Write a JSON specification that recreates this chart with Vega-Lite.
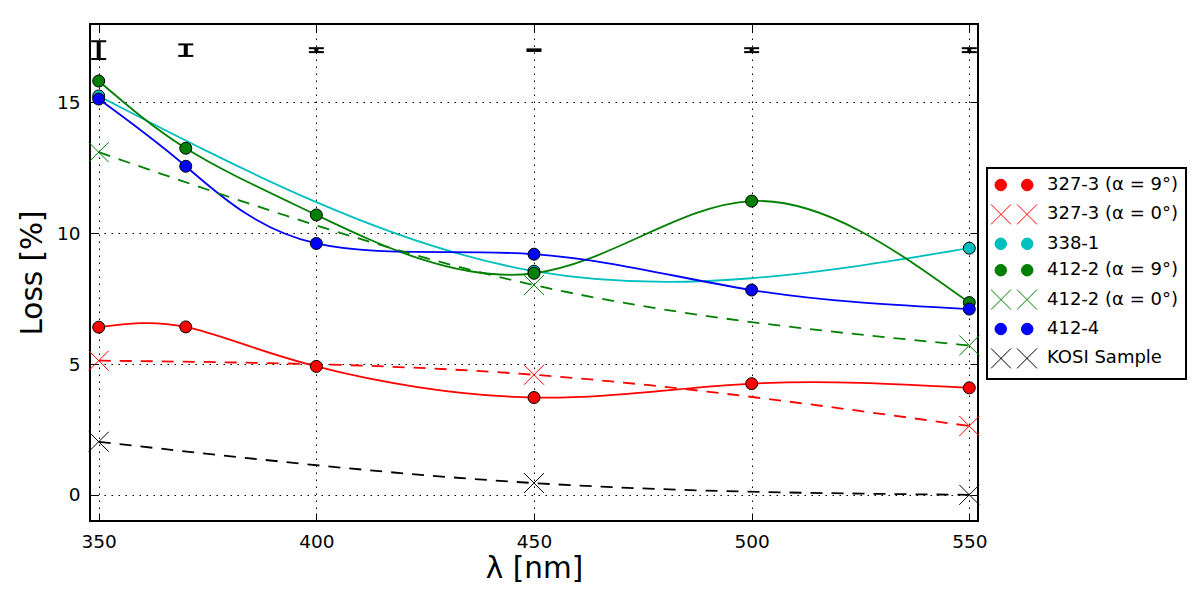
{
  "$schema": "https://vega.github.io/schema/vega-lite/v6.json",
  "width": 888,
  "height": 497,
  "autosize": {"type": "none"},
  "padding": {"left": 90, "top": 24, "right": 222, "bottom": 79},
  "background": "white",
  "datasets": {
    "loss": [
      {"series": "327-3 (α=9°)", "wavelength": 350, "loss": 6.41},
      {"series": "327-3 (α=9°)", "wavelength": 370, "loss": 6.42},
      {"series": "327-3 (α=9°)", "wavelength": 400, "loss": 4.91},
      {"series": "327-3 (α=9°)", "wavelength": 450, "loss": 3.72},
      {"series": "327-3 (α=9°)", "wavelength": 500, "loss": 4.25},
      {"series": "327-3 (α=9°)", "wavelength": 550, "loss": 4.09},
      {"series": "327-3 (α=0°)", "wavelength": 350, "loss": 5.13},
      {"series": "327-3 (α=0°)", "wavelength": 450, "loss": 4.59},
      {"series": "327-3 (α=0°)", "wavelength": 550, "loss": 2.63},
      {"series": "338-1", "wavelength": 350, "loss": 15.25},
      {"series": "338-1", "wavelength": 450, "loss": 8.55},
      {"series": "338-1", "wavelength": 550, "loss": 9.43},
      {"series": "412-2 (α=9°)", "wavelength": 350, "loss": 15.82},
      {"series": "412-2 (α=9°)", "wavelength": 370, "loss": 13.25},
      {"series": "412-2 (α=9°)", "wavelength": 400, "loss": 10.7},
      {"series": "412-2 (α=9°)", "wavelength": 450, "loss": 8.47},
      {"series": "412-2 (α=9°)", "wavelength": 500, "loss": 11.23},
      {"series": "412-2 (α=9°)", "wavelength": 550, "loss": 7.35},
      {"series": "412-2 (α=0°)", "wavelength": 350, "loss": 13.1},
      {"series": "412-2 (α=0°)", "wavelength": 450, "loss": 8.02},
      {"series": "412-2 (α=0°)", "wavelength": 550, "loss": 5.71},
      {"series": "412-4", "wavelength": 350, "loss": 15.13},
      {"series": "412-4", "wavelength": 370, "loss": 12.56},
      {"series": "412-4", "wavelength": 400, "loss": 9.61},
      {"series": "412-4", "wavelength": 450, "loss": 9.2},
      {"series": "412-4", "wavelength": 500, "loss": 7.83},
      {"series": "412-4", "wavelength": 550, "loss": 7.1},
      {"series": "KOSI Sample", "wavelength": 350, "loss": 2.03},
      {"series": "KOSI Sample", "wavelength": 450, "loss": 0.45},
      {"series": "KOSI Sample", "wavelength": 550, "loss": 0.0}
    ],
    "err": [
      {"wavelength": 350, "lo": 16.66, "hi": 17.34},
      {"wavelength": 370, "lo": 16.78, "hi": 17.22},
      {"wavelength": 400, "lo": 16.925, "hi": 17.075},
      {"wavelength": 450, "lo": 16.97, "hi": 17.03},
      {"wavelength": 500, "lo": 16.925, "hi": 17.075},
      {"wavelength": 550, "lo": 16.925, "hi": 17.075}
    ]
  },
  "layer": [
    {
      "data": {"name": "err"},
      "mark": {"type": "rule", "strokeWidth": 4, "color": "black", "opacity": 1},
      "encoding": {
        "x": {
          "field": "wavelength", "type": "quantitative",
          "scale": {"domain": [348, 552], "nice": false, "zero": false},
          "axis": {"orient": "bottom", "values": [350, 400, 450, 500, 550], "title": "λ [nm]", "grid": true, "labelPadding": 19, "titlePadding": 4}
        },
        "y": {
          "field": "lo", "type": "quantitative",
          "scale": {"domain": [-1, 18], "nice": false, "zero": false},
          "axis": {"orient": "left", "values": [0, 5, 10, 15], "title": "Loss [%]", "grid": true, "labelPadding": 18, "titlePadding": 9}
        },
        "y2": {"field": "hi"}
      }
    },
    {
      "data": {"name": "err"},
      "transform": [{"fold": ["lo", "hi"], "as": ["end", "loss"]}],
      "mark": {"type": "tick", "orient": "horizontal", "size": 15, "thickness": 2, "color": "black", "opacity": 1},
      "encoding": {
        "x": {
          "field": "wavelength", "type": "quantitative",
          "scale": {"domain": [348, 552], "nice": false, "zero": false},
          "axis": {"orient": "top", "values": [350, 400, 450, 500, 550], "labels": false, "title": null, "grid": false}
        },
        "y": {
          "field": "loss", "type": "quantitative",
          "scale": {"domain": [-1, 18], "nice": false, "zero": false},
          "axis": {"orient": "right", "values": [0, 5, 10, 15], "labels": false, "title": null, "grid": false}
        }
      }
    },
    {
      "data": {"name": "loss"},
      "transform": [{"filter": {"field": "series", "oneOf": ["327-3 (α=9°)", "338-1", "412-2 (α=9°)", "412-4"]}}],
      "mark": {"type": "line", "interpolate": "natural", "strokeWidth": 1.8},
      "encoding": {
        "x": {"field": "wavelength", "type": "quantitative", "axis": null},
        "y": {"field": "loss", "type": "quantitative", "axis": null},
        "color": {
          "field": "series", "type": "nominal",
          "scale": {
            "domain": ["327-3 (α=9°)", "327-3 (α=0°)", "338-1", "412-2 (α=9°)", "412-2 (α=0°)", "412-4", "KOSI Sample"],
            "range": ["#ff0000", "#ff0000", "#00bfbf", "#008000", "#008000", "#0000ff", "#000000"]
          },
          "legend": {
            "title": null,
            "orient": "none",
            "legendX": 897,
            "legendY": 144,
            "strokeColor": "black",
            "fillColor": "white",
            "padding": 8,
            "symbolSize": 100,
            "symbolOffset": 10,
            "labelOffset": 24,
            "rowPadding": 8.4,
            "labelFont": "DejaVu Sans",
            "labelFontSize": 18,
            "labelColor": "black",
            "labelLimit": 300,
            "labelExpr": "replace(datum.label, '=', ' = ')",
            "encode": {
              "legend": {"update": {"strokeWidth": {"value": 2}}},
              "symbols": {
                "update": {
                  "shape": {"signal": "indexof(['327-3 (α=0°)','412-2 (α=0°)','KOSI Sample'], datum.value) >= 0 ? 'M -4.6 -2 L -0.6 2 M -4.6 2 L -0.6 -2 M 0.6 -2 L 4.6 2 M 0.6 2 L 4.6 -2' : 'M -3.8 0 A 1.15 1.15 0 1 1 -1.5 0 A 1.15 1.15 0 1 1 -3.8 0 Z M 1.5 0 A 1.15 1.15 0 1 1 3.8 0 A 1.15 1.15 0 1 1 1.5 0 Z'"},
                  "fill": {"signal": "indexof(['327-3 (α=0°)','412-2 (α=0°)','KOSI Sample'], datum.value) >= 0 ? 'transparent' : scale('color', datum.value)"},
                  "stroke": {"signal": "indexof(['327-3 (α=0°)','412-2 (α=0°)','KOSI Sample'], datum.value) >= 0 ? scale('color', datum.value) : 'black'"},
                  "strokeWidth": {"value": 1},
                  "opacity": {"value": 1}
                }
              }
            }
          }
        }
      }
    },
    {
      "data": {"name": "loss"},
      "transform": [{"filter": {"field": "series", "oneOf": ["327-3 (α=0°)", "412-2 (α=0°)", "KOSI Sample"]}}],
      "mark": {"type": "line", "interpolate": "natural", "strokeWidth": 1.8, "strokeDash": [12, 9]},
      "encoding": {
        "x": {"field": "wavelength", "type": "quantitative", "axis": null},
        "y": {"field": "loss", "type": "quantitative", "axis": null},
        "color": {"field": "series", "type": "nominal"}
      }
    },
    {
      "data": {"name": "loss"},
      "transform": [{"filter": {"field": "series", "oneOf": ["327-3 (α=0°)", "412-2 (α=0°)", "KOSI Sample"]}}],
      "mark": {"type": "point", "shape": "M -1 -1 L 1 1 M -1 1 L 1 -1", "filled": false, "size": 400, "strokeWidth": 1, "opacity": 1},
      "encoding": {
        "x": {"field": "wavelength", "type": "quantitative", "axis": null},
        "y": {"field": "loss", "type": "quantitative", "axis": null},
        "color": {"field": "series", "type": "nominal"}
      }
    },
    {
      "data": {"name": "loss"},
      "transform": [{"filter": {"field": "series", "oneOf": ["327-3 (α=9°)", "338-1", "412-2 (α=9°)", "412-4"]}}],
      "mark": {"type": "point", "shape": "circle", "filled": true, "size": 144, "stroke": "black", "strokeWidth": 1, "opacity": 1},
      "encoding": {
        "x": {"field": "wavelength", "type": "quantitative", "axis": null},
        "y": {"field": "loss", "type": "quantitative", "axis": null},
        "color": {"field": "series", "type": "nominal"}
      }
    }
  ],
  "resolve": {"axis": {"x": "independent", "y": "independent"}},
  "config": {
    "font": "DejaVu Sans",
    "view": {"stroke": "black", "strokeWidth": 2},
    "axis": {
      "domain": false,
      "ticks": true,
      "tickColor": "black",
      "tickSize": -8,
      "tickWidth": 1,
      "labelFont": "DejaVu Sans",
      "labelFontSize": 18.5,
      "labelColor": "black",
      "titleFont": "DejaVu Sans",
      "titleFontSize": 29.5,
      "titleFontWeight": "normal",
      "titleColor": "black",
      "gridColor": "black",
      "gridDash": [1.5, 5.5],
      "gridWidth": 1,
      "gridOpacity": 1
    }
  }
}
